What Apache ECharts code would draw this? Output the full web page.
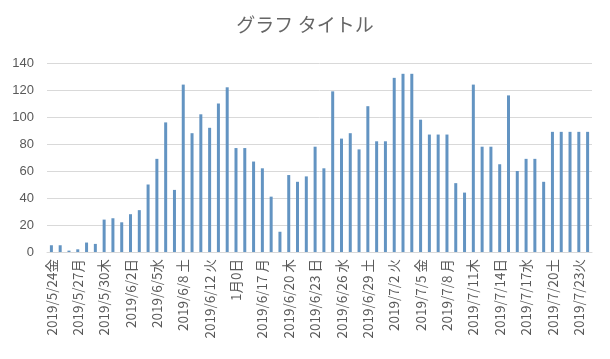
<!DOCTYPE html>
<html><head><meta charset="utf-8">
<script src="https://cdn.jsdelivr.net/npm/echarts@6/dist/echarts.min.js"></script>
<style>html,body{margin:0;padding:0;background:#fff}#c{width:610px;height:359px}</style>
</head><body><div id="c"></div>
<script>
const title = 'グラフ タイトル';
const categories = [
 '2019/5/24金','2019/5/25土','2019/5/26日','2019/5/27月','2019/5/28火','2019/5/29水',
 '2019/5/30木','2019/5/31金','2019/6/1土','2019/6/2日','2019/6/3月','2019/6/4火',
 '2019/6/5水','2019/6/6木','2019/6/7金','2019/6/8 土','2019/6/9日','2019/6/10月',
 '2019/6/12 火','2019/6/13木','2019/6/14金','1月0日','2019/6/15土','2019/6/16日',
 '2019/6/17 月','2019/6/18火','2019/6/19水','2019/6/20 木','2019/6/21金','2019/6/22土',
 '2019/6/23 日','2019/6/24月','2019/6/25火','2019/6/26 水','2019/6/27木','2019/6/28金',
 '2019/6/29 土','2019/6/30日','2019/7/1月','2019/7/2 火','2019/7/3水','2019/7/4木',
 '2019/7/5 金','2019/7/6土','2019/7/7日','2019/7/8 月','2019/7/9火','2019/7/10水',
 '2019/7/11木','2019/7/12金','2019/7/13土','2019/7/14日','2019/7/15月','2019/7/16火',
 '2019/7/17水','2019/7/18木','2019/7/19金','2019/7/20土','2019/7/21日','2019/7/22月',
 '2019/7/23火','2019/7/24水'
];
const values = [
 5,5,1,2,7,6,
 24,25,22,28,31,50,
 69,96,46,124,88,102,
 92,110,122,77,77,67,
 62,41,15,57,52,56,
 78,62,119,84,88,76,
 108,82,82,129,132,132,
 98,87,87,87,51,44,
 124,78,78,65,116,60,
 69,69,52,89,89,89,
 89,89
];
const yTicks = {min:0, max:140, interval:20};

const chart = echarts.init(document.getElementById('c'), null, {renderer:'canvas'});
chart.setOption({
  animation:false,
  backgroundColor:'#ffffff',
  title:{text:title,left:'center',top:10,textStyle:{fontFamily:'Noto Sans CJK JP',fontSize:19,fontWeight:'normal',color:'#666666'}},
  grid:{left:47,right:18,top:63,bottom:107,containLabel:false},
  xAxis:{type:'category',data:categories,
    axisLine:{lineStyle:{color:'#d9d9d9'}},axisTick:{show:false},
    axisLabel:{interval:2,rotate:90,margin:7,fontSize:13.5,color:'#595959',fontFamily:'Noto Sans CJK JP'}},
  yAxis:{type:'value',min:yTicks.min,max:yTicks.max,interval:yTicks.interval,
    axisLine:{show:false},axisTick:{show:false},
    splitLine:{lineStyle:{color:'#d9d9d9'}},
    axisLabel:{fontSize:13,color:'#595959',margin:13,fontFamily:'Liberation Sans'}},
  series:[{type:'bar',data:values,barWidth:3,itemStyle:{color:'#6394c2'}}]
});
</script></body></html>
